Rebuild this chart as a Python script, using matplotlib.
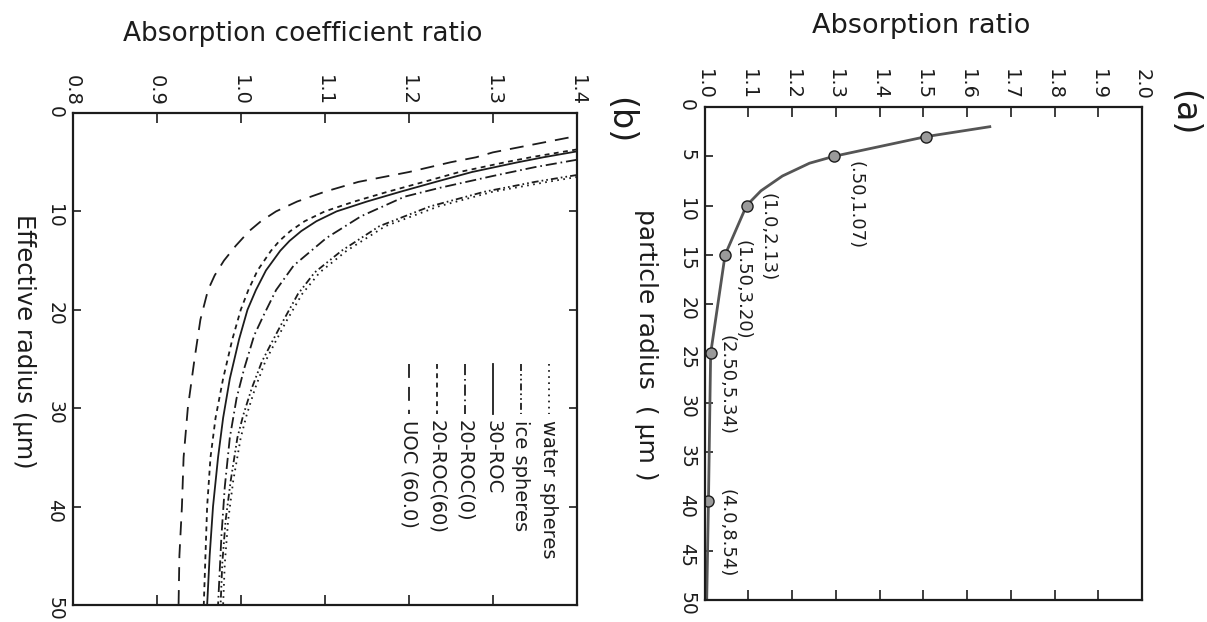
import matplotlib
matplotlib.use("Agg")
import matplotlib.pyplot as plt
from matplotlib.ticker import FormatStrFormatter

plt.rcParams["font.family"] = ["DejaVu Sans"]
plt.rcParams["lines.scale_dashes"] = False

INK = "#1c1c1c"

# ---- panel (b): absorption coefficient ratio vs effective radius (um)
water_r = [6.5, 7, 8, 9.5, 11.5, 14, 16.2, 18.4, 21.2, 23.3, 25.3, 28, 30.7, 33, 37.4, 41.4, 45.8, 50]
water_ratio = [1.40, 1.365, 1.30, 1.235, 1.172, 1.126, 1.094, 1.073, 1.054, 1.041, 1.029, 1.017,
               1.007, 1.000, 0.991, 0.985, 0.981, 0.979]
ice_r = [6.3, 7, 8, 9.5, 11.5, 14, 16.2, 18.4, 21.2, 23.3, 25.3, 28, 30.7, 33, 37.4, 41.4, 45.8, 50]
ice_ratio = [1.40, 1.35, 1.29, 1.225, 1.165, 1.120, 1.088, 1.068, 1.050, 1.037, 1.025, 1.013,
             1.003, 0.996, 0.988, 0.982, 0.978, 0.976]
roc30_r = [3.9, 4.5, 5, 6, 7, 8, 9, 10, 11, 12, 13, 14, 16, 18, 20, 23, 27, 31, 35, 40, 45, 50]
roc30_ratio = [1.40, 1.36, 1.33, 1.275, 1.232, 1.19, 1.15, 1.114, 1.090, 1.072, 1.058, 1.047,
               1.030, 1.018, 1.008, 0.998, 0.987, 0.979, 0.973, 0.967, 0.963, 0.960]
roc20_0_r = [4.75, 5.5, 6.4, 7.6, 8.5, 10.5, 12.7, 15.5, 18, 20.6, 22.6, 26, 29, 33, 38, 43, 50]
roc20_0_ratio = [1.40, 1.35, 1.30, 1.237, 1.195, 1.143, 1.102, 1.063, 1.042, 1.027, 1.016, 1.004,
                 0.995, 0.987, 0.981, 0.977, 0.973]
roc20_60_r = [3.7, 4.5, 5, 6, 7, 8, 9, 10, 11, 12, 13, 14, 16, 18, 20, 23, 27, 31, 35, 40, 45, 50]
roc20_60_ratio = [1.40, 1.345, 1.315, 1.26, 1.218, 1.175, 1.135, 1.100, 1.076, 1.059, 1.046, 1.036,
                  1.020, 1.009, 1.000, 0.990, 0.979, 0.970, 0.964, 0.960, 0.958, 0.956]
uoc_r = [2.5, 3.0, 3.5, 4.0, 4.5, 5.0, 6.0, 7.0, 8.0, 9.0, 10.0, 11.0, 12.0, 13.5, 15.0, 16.5,
         18.0, 21.0, 25.0, 30.0, 35.0, 40.0, 45.0, 50.0]
uoc_ratio = [1.39, 1.36, 1.33, 1.30, 1.28, 1.25, 1.20, 1.14, 1.10, 1.067, 1.042, 1.024, 1.010,
             0.994, 0.980, 0.969, 0.961, 0.952, 0.945, 0.937, 0.932, 0.930, 0.927, 0.926]

series_names = ["water spheres", "ice spheres", "30-ROC", "20-ROC(0)", "20-ROC(60)", "UOC (60.0)"]
series_r = [water_r, ice_r, roc30_r, roc20_0_r, roc20_60_r, uoc_r]
series_ratio = [water_ratio, ice_ratio, roc30_ratio, roc20_0_ratio, roc20_60_ratio, uoc_ratio]
series_dashes = [
    (0, (1.2, 3.2)),
    (0, (5, 2.2, 1.2, 2.2, 1.2, 2.2)),
    "-",
    (0, (8, 2.8, 1.2, 2.8)),
    (0, (3.5, 3.2)),
    (0, (10, 6.5)),
]
b_xticks = [0.8, 0.9, 1.0, 1.1, 1.2, 1.3, 1.4]
b_yticks = [0, 10, 20, 30, 40, 50]

# ---- panel (a): absorption ratio vs particle radius (um)
a_radius = [2.0, 3.0, 5.0, 5.7, 7.0, 8.5, 10.0, 15.0, 25.0, 40.0, 50.0]
a_ratio = [1.652, 1.507, 1.296, 1.240, 1.178, 1.129, 1.096, 1.047, 1.014, 1.009, 1.005]
pt_radius = [3, 5, 10, 15, 25, 40]
pt_ratio = [1.507, 1.296, 1.096, 1.047, 1.014, 1.009]
lab_radius = [5, 10, 15, 25, 40]
lab_ratio = [1.296, 1.096, 1.047, 1.014, 1.009]
lab_text = ["(.50,1.07)", "(1.0,2.13)", "(1.50,3.20)", "(2.50,5.34)", "(4.0,8.54)"]
lab_offset_px = [(21, -5), (21, 13), (17, 15), (16, 18), (18, 12)]
a_xticks = [1.0, 1.1, 1.2, 1.3, 1.4, 1.5, 1.6, 1.7, 1.8, 1.9, 2.0]
a_yticks = [0, 5, 10, 15, 20, 25, 30, 35, 40, 45, 50]

fig = plt.figure(figsize=(12.07, 6.22), dpi=100)
ax_b = fig.add_axes([0.0602, 0.0275, 0.4178, 0.7908])
ax_a = fig.add_axes([0.5837, 0.0354, 0.3625, 0.7926])


def style_axes(ax, xlim, xticks, yticks, right_ticks):
    """Rotated page: ratio runs left-right, radius runs top-down"""
    ax.set_xlim(*xlim)
    ax.set_ylim(50, 0)
    ax.set_xticks(xticks)
    ax.set_yticks(yticks)
    ax.xaxis.set_major_formatter(FormatStrFormatter("%.1f"))
    ax.xaxis.tick_top()
    ax.tick_params(axis="x", which="both", direction="in", top=True, bottom=True,
                   labeltop=True, labelbottom=False, labelrotation=270,
                   length=7, width=1.2, colors=INK, labelsize=14, pad=5)
    ax.tick_params(axis="y", direction="in", left=True, right=right_ticks,
                   labelrotation=270, length=6, width=1.2, colors=INK,
                   labelsize=13.5, pad=6)
    for sp in ax.spines.values():
        sp.set_linewidth(1.6)
        sp.set_color(INK)


style_axes(ax_b, (0.8, 1.4), b_xticks, b_yticks, True)
style_axes(ax_a, (1.0, 2.0), a_xticks, a_yticks, False)

# panel (b) curves
for r, ratio, ls in zip(series_r, series_ratio, series_dashes):
    ax_b.plot(ratio, r, color=INK, lw=1.3, linestyle=ls)

# hand-made legend: vertical handles with rotated labels
for i, (name, ls) in enumerate(zip(series_names, series_dashes)):
    x = 0.944 - i * 0.0555
    ax_b.plot([x, x], [0.489, 0.388], transform=ax_b.transAxes, color=INK,
              lw=1.3, linestyle=ls)
    ax_b.text(x, 0.376, name, transform=ax_b.transAxes, rotation=270,
              ha="center", va="top", fontsize=14, color=INK)

ax_b.text(0.457, 1.16, "Absorption coefficient ratio", transform=ax_b.transAxes,
          ha="center", va="center", fontsize=19, color=INK)
ax_b.text(-0.097, 0.535, "Effective radius (\u03bcm)", transform=ax_b.transAxes,
          rotation=270, ha="center", va="center", fontsize=17.5, color=INK)
ax_b.text(1.085, 0.985, "(b)", transform=ax_b.transAxes, rotation=270,
          ha="center", va="center", fontsize=24, color=INK)

# panel (a) curve with marked points
ax_a.plot(a_ratio, a_radius, color="#555555", lw=2.0)
ax_a.plot(pt_ratio, pt_radius, linestyle="none", marker="o", markersize=8,
          markerfacecolor="#9a9a9a", markeredgecolor=INK, markeredgewidth=1.0)
for x, y, txt, (dx, dy) in zip(lab_ratio, lab_radius, lab_text, lab_offset_px):
    ax_a.annotate(txt, (x, y), xytext=(dx * 0.72, dy * 0.72), textcoords="offset points",
                  rotation=270, ha="center", va="top", fontsize=13, color=INK)

ax_a.text(0.495, 1.164, "Absorption ratio", transform=ax_a.transAxes,
          ha="center", va="center", fontsize=19.5, color=INK)
ax_a.text(-0.134, 0.517, "particle radius  ( \u03bcm )", transform=ax_a.transAxes,
          rotation=270, ha="center", va="center", fontsize=18, color=INK)
ax_a.text(1.094, 0.988, "(a)", transform=ax_a.transAxes, rotation=270,
          ha="center", va="center", fontsize=24, color=INK)

fig.savefig("out.png", dpi=100)
